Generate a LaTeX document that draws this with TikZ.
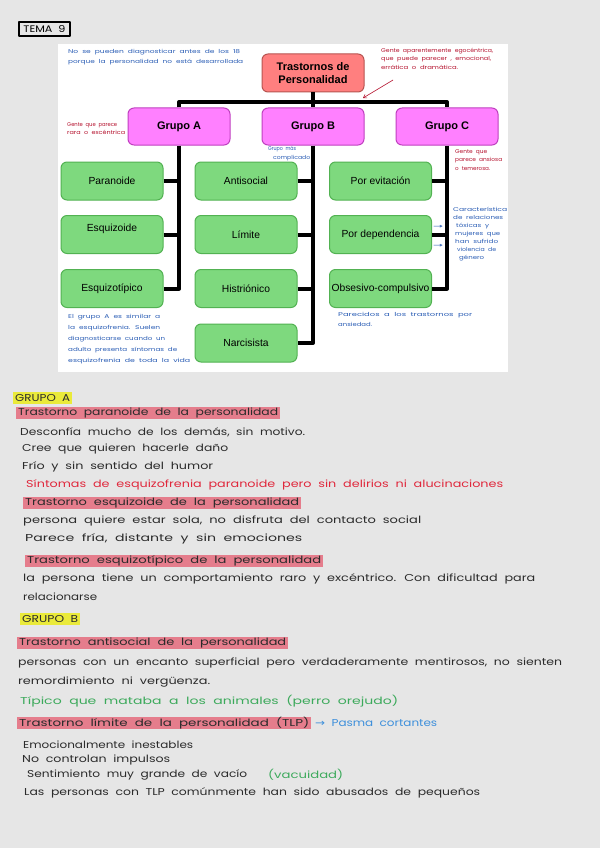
\documentclass[tikz,border=0pt]{standalone}
\usepackage{fontspec}
\usepackage{graphicx}
\setmainfont{Liberation Sans}
\newfontfamily\hand[WordSpace=2]{Poppins}
\newfontfamily\djv{DejaVu Sans}
\usetikzlibrary{arrows.meta}
\definecolor{bggray}{HTML}{E6E6E6}
\definecolor{topfill}{HTML}{FF7F7F}
\definecolor{topdraw}{HTML}{B85450}
\definecolor{grpfill}{HTML}{FF80FF}
\definecolor{grpdraw}{HTML}{C040C0}
\definecolor{leaffill}{HTML}{7ED97E}
\definecolor{leafdraw}{HTML}{52B252}
\definecolor{ink}{HTML}{2B2B2B}
\definecolor{hred}{HTML}{E0283C}
\definecolor{hgreen}{HTML}{3DAA5C}
\definecolor{hblue}{HTML}{3D8FDB}
\definecolor{nblue}{HTML}{2A5DB5}
\definecolor{nred}{HTML}{B5122E}
\definecolor{hyellow}{HTML}{EAEA3A}
\definecolor{hpink}{HTML}{E57D8C}
\newcommand\hw[2]{\resizebox{#1pt}{\height}{#2}}
\begin{document}
\begin{tikzpicture}[x=1pt,y=-1pt,line join=round,
  box/.style={rounded corners=6pt, minimum width=102pt, inner sep=0pt, line width=1pt},
  topbox/.style={box, fill=topfill, draw=topdraw, minimum height=38pt, align=center,
    font=\fontsize{11}{13}\selectfont\bfseries},
  grp/.style={box, fill=grpfill, draw=grpdraw, minimum height=37pt,
    font=\fontsize{11}{13}\selectfont\bfseries},
  leaf/.style={box, fill=leaffill, draw=leafdraw, minimum height=38pt,
    font=\fontsize{10.3}{12}\selectfont},
  tree/.style={line width=4pt, draw=black},
  handtxt/.style={anchor=west, inner sep=0pt, text=ink, font=\hand\fontsize{10}{12}\selectfont},
  hltxt/.style={handtxt, fill=#1, inner xsep=2pt, minimum height=12.5pt},
  note/.style={anchor=north west, inner sep=0pt, align=left, text=#1,
    font=\hand\fontsize{5.5}{8.5}\selectfont}
]
\useasboundingbox (0,0) rectangle (600,848);
\fill[bggray] (0,0) rectangle (600,848);
\fill[white] (58,44) rectangle (508,372);

% title box
\node[draw=black, line width=1.5pt, minimum width=51pt, minimum height=14pt, inner sep=0pt,
  font=\hand\fontsize{9.5}{10}\selectfont] (tema) at (44.5,29) {\hw{42}{TEMA 9}};

% diagram
\node[topbox] (top) at (313,73) {Trastornos de\\Personalidad};
\node[grp] (gA) at (179,126.5) {Grupo A};
\node[grp] (gB) at (313,126.5) {Grupo B};
\node[grp] (gC) at (447,126.5) {Grupo C};

\node[leaf] (a1) at (112,181) {Paranoide};
\node[leaf, label={[yshift=5.5pt, font=\fontsize{10.3}{12}\selectfont]center:Esquizoide}] (a2) at (112,234.5) {};
\node[leaf] (a3) at (112,288.5) {Esquizotípico};

\node[leaf] (b1) at (246,181) {Antisocial};
\node[leaf] (b2) at (246,234.5) {Límite};
\node[leaf] (b3) at (246,288.5) {Histriónico};
\node[leaf] (b4) at (246,343) {Narcisista};

\node[leaf] (c1) at (380.5,181) {Por evitación};
\node[leaf] (c2) at (380.5,234.5) {Por dependencia};
\node[leaf] (c3) at (380.5,288.5) {Obsesivo-compulsivo};

\coordinate (bar) at (313,102);
\draw[tree] (top.south) -- (gB.north);
\draw[tree] (gA.north) |- (bar) -| (gC.north);
\draw[tree] (gA.south) |- (a3.east);
\draw[tree] (a1.east) -- (a1.east -| gA.south);
\draw[tree] (a2.east) -- (a2.east -| gA.south);
\draw[tree] (gB.south) |- (b4.east);
\draw[tree] (b1.east) -- (b1.east -| gB.south);
\draw[tree] (b2.east) -- (b2.east -| gB.south);
\draw[tree] (b3.east) -- (b3.east -| gB.south);
\draw[tree] (gC.south) |- (c3.east);
\draw[tree] (c1.east) -- (c1.east -| gC.south);
\draw[tree] (c2.east) -- (c2.east -| gC.south);

% annotations
\node[note=nblue] (n1) at (68,49) {\hw{172}{No se pueden diagnosticar antes de los 18}\\[1.5pt]\hw{175}{porque la personalidad no está desarrollada}};
\node[note=nred] (n2) at (381,48) {\hw{112}{Gente aparentemente egocéntrica,}\\\hw{110}{que puede parecer , emocional,}\\\hw{77}{errática o dramática.}};
\coordinate (rarrS) at (393,80);
\coordinate (rarrE) at (363,98);
\draw[nred, line width=0.6pt, -{Straight Barb[length=3pt,width=4pt]}] (rarrS) -- (rarrE);
\node[note=nred] (n3) at (67,122) {\hw{50}{Gente que parece}\\\hw{58}{rara o excéntrica}};
\node[note=nblue] (n4) at (268,146) {\hw{28}{Grupo más}\\\hspace*{5pt}\hw{37}{complicado}};
\node[note=nred] (n5) at (455,149) {\hw{32}{Gente que}\\\hw{47}{parece ansiosa}\\\hw{35}{o temerosa.}};
\node[note=nblue, font=\hand\fontsize{5.5}{8}\selectfont] (n6) at (453,207) {\hw{54}{Característica}\\\hw{50}{de relaciones}\\\hspace*{3pt}\hw{33}{tóxicas y}\\\hspace*{2pt}\hw{45}{mujeres que}\\\hspace*{2pt}\hw{43}{han sufrido}\\\hspace*{4pt}\hw{39}{violencia de}\\\hspace*{6pt}\hw{25}{género}};
\node[anchor=west, inner sep=0pt, text=nblue, font=\djv\fontsize{6}{7}\selectfont] (ar1) at (433,227) {\hw{10}{→}};
\node[anchor=west, inner sep=0pt, text=nblue, font=\djv\fontsize{6}{7}\selectfont] (ar2) at (433,246) {\hw{10}{→}};
\node[note=nblue, font=\hand\fontsize{5.5}{11}\selectfont] (n7) at (68,314) {\hw{92}{El grupo A es similar a}\\\hw{92}{la esquizofrenia. Suelen}\\\hw{97}{diagnosticarse cuando un}\\\hw{109}{adulto presenta síntomas de}\\\hw{122}{esquizofrenia de toda la vida}};
\node[note=nblue, font=\hand\fontsize{5.5}{10}\selectfont] (n8) at (338,312) {\hw{134}{Parecidos a los trastornos por}\\\hw{34}{ansiedad.}};

% notes below
\node[hltxt=hyellow] (ga) at (13,398) {\hw{55}{GRUPO A}};
\node[hltxt=hpink] (t1) at (16,413) {\hw{260}{Trastorno paranoide de la personalidad}};
\node[handtxt] (l1) at (20,432) {\hw{285}{Desconfía mucho de los demás, sin motivo.}};
\node[handtxt] (l2) at (22,449) {\hw{206}{Cree que quieren hacerle daño}};
\node[handtxt] (l3) at (22,467) {\hw{191}{Frío y sin sentido del humor}};
\node[handtxt, text=hred] (l4) at (26,485) {\hw{477}{Síntomas de esquizofrenia paranoide pero sin delirios ni alucinaciones}};
\node[hltxt=hpink] (t2) at (23,503) {\hw{274}{Trastorno esquizoide de la personalidad}};
\node[handtxt] (l5) at (23,521) {\hw{398}{persona quiere estar sola, no disfruta del contacto social}};
\node[handtxt] (l6) at (25,539) {\hw{277}{Parece fría, distante y sin emociones}};
\node[hltxt=hpink] (t3) at (25,561) {\hw{294}{Trastorno esquizotípico de la personalidad}};
\node[handtxt] (l7) at (23,579) {\hw{512}{la persona tiene un comportamiento raro y excéntrico. Con dificultad para}};
\node[handtxt] (l8) at (23,597) {\hw{74}{relacionarse}};

\node[hltxt=hyellow] (gb) at (20,619) {\hw{56}{GRUPO B}};
\node[hltxt=hpink] (t4) at (17,643) {\hw{267}{Trastorno antisocial de la personalidad}};
\node[handtxt] (l9) at (18,663) {\hw{544}{personas con un encanto superficial pero verdaderamente mentirosos, no sienten}};
\node[handtxt] (l10) at (18,682) {\hw{192}{remordimiento ni vergüenza.}};
\node[handtxt, text=hgreen] (l11) at (20,701) {\hw{378}{Típico que mataba a los animales (perro orejudo)}};
\node[hltxt=hpink] (t5) at (17,723) {\hw{290}{Trastorno límite de la personalidad (TLP)}};
\node[handtxt, text=hblue] (l12) at (315,723) {\hw{122}{{\djv →} Pasma cortantes}};
\node[handtxt] (l13) at (23,745) {\hw{170}{Emocionalmente inestables}};
\node[handtxt] (l14) at (22,760) {\hw{148}{No controlan impulsos}};
\node[handtxt] (l15) at (27,775) {\hw{220}{Sentimiento muy grande de vacío}};
\node[handtxt, text=hgreen] (l16) at (268,775) {\hw{75}{(vacuidad)}};
\node[handtxt] (l17) at (24,793) {\hw{456}{Las personas con TLP comúnmente han sido abusados de pequeños}};
\end{tikzpicture}
\end{document}
